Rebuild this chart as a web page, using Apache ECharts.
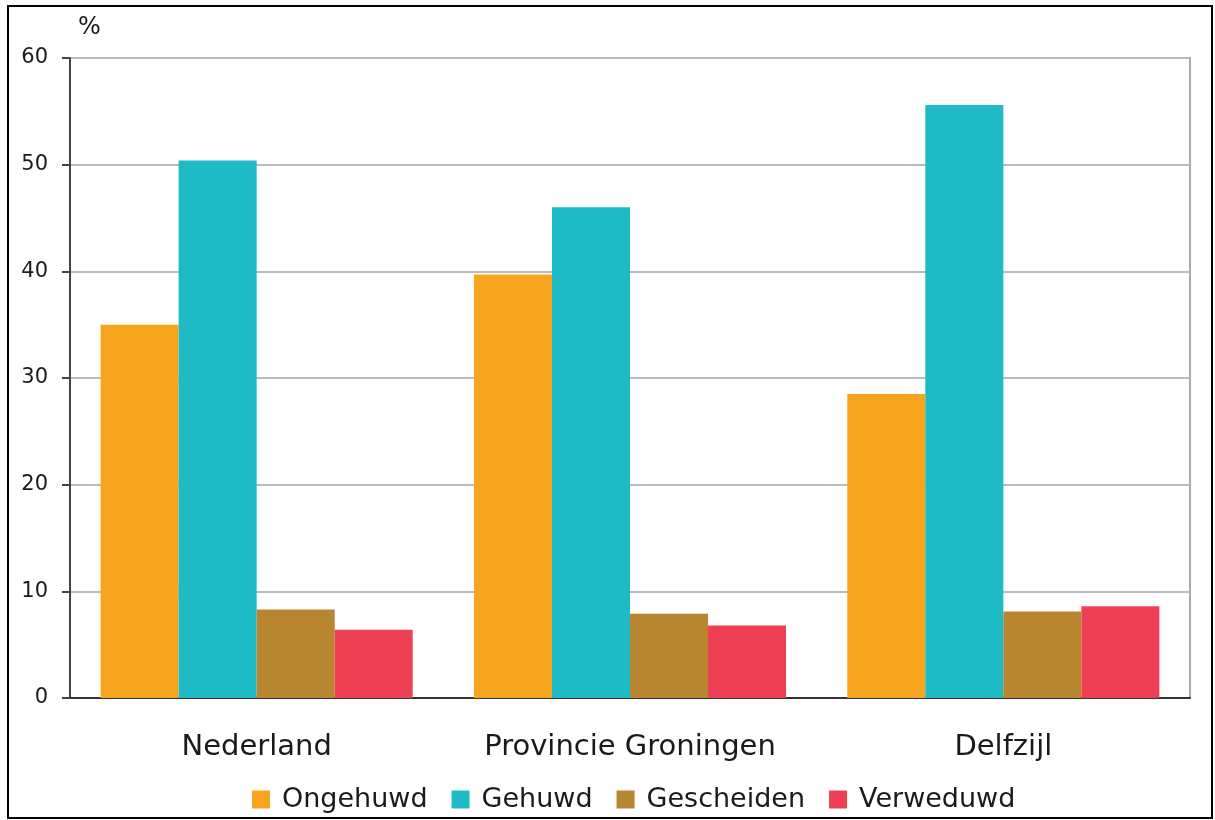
<!DOCTYPE html>
<html>
<head>
<meta charset="utf-8">
<script src="https://cdn.jsdelivr.net/npm/echarts@6/dist/echarts.min.js"></script>
<style>
html,body{margin:0;padding:0;background:#fff;}
#chart{width:1215px;height:820px;}
</style>
</head>
<body>
<div id="chart"></div>
<script>
const categories = ["Nederland", "Provincie Groningen", "Delfzijl"];
const seriesNames = ["Ongehuwd", "Gehuwd", "Gescheiden", "Verweduwd"];
const ongehuwd = [35.0, 39.7, 28.5];
const gehuwd = [50.4, 46.0, 55.6];
const gescheiden = [8.3, 7.9, 8.1];
const verweduwd = [6.4, 6.8, 8.6];
const colors = ["#F7A51E", "#1EBAC5", "#B88530", "#EE4055"];
const seriesData = [ongehuwd, gehuwd, gescheiden, verweduwd];

const font = "DejaVu Sans";
const chart = echarts.init(document.getElementById('chart'));
chart.setOption({
  animation: false,
  textStyle: { fontFamily: font },
  graphic: [
    { type: 'rect', shape: { x: 8, y: 6, width: 1204, height: 812 }, style: { fill: 'none', stroke: '#000', lineWidth: 2 }, z: 100 },
    { type: 'text', left: 78, top: 16, style: { text: '%', font: '24px "DejaVu Sans"', fill: '#1a1a1a' } }
  ],
  grid: { left: 70, right: 25, top: 58, bottom: 122, show: true, borderColor: '#aaaaaa', borderWidth: 2 },
  legend: {
    top: 781, left: 247,
    itemWidth: 18, itemHeight: 18, itemGap: 24,
    icon: 'rect',
    textStyle: { fontSize: 27, color: '#1a1a1a', fontFamily: font, padding: [0, 0, 0, 7] },
    data: seriesNames
  },
  xAxis: {
    type: 'category', data: categories,
    axisLine: { lineStyle: { color: '#333', width: 2 } },
    axisTick: { show: false },
    axisLabel: { interval: 0, fontSize: 29, color: '#1a1a1a', margin: 35, fontFamily: font }
  },
  yAxis: {
    type: 'value', min: 0, max: 60, interval: 10,
    axisLine: { show: true, lineStyle: { color: '#444', width: 2 } },
    axisTick: { show: true, length: 8, lineStyle: { color: '#444', width: 2 } },
    splitLine: { lineStyle: { color: '#bbbbbb', width: 2 } },
    axisLabel: { fontSize: 21, color: '#1a1a1a', margin: 22, fontFamily: font }
  },
  series: seriesNames.map((n, i) => ({
    name: n, type: 'bar', data: seriesData[i],
    itemStyle: { color: colors[i] },
    barGap: '0%', barCategoryGap: '16.4%'
  }))
});
</script>
</body>
</html>
